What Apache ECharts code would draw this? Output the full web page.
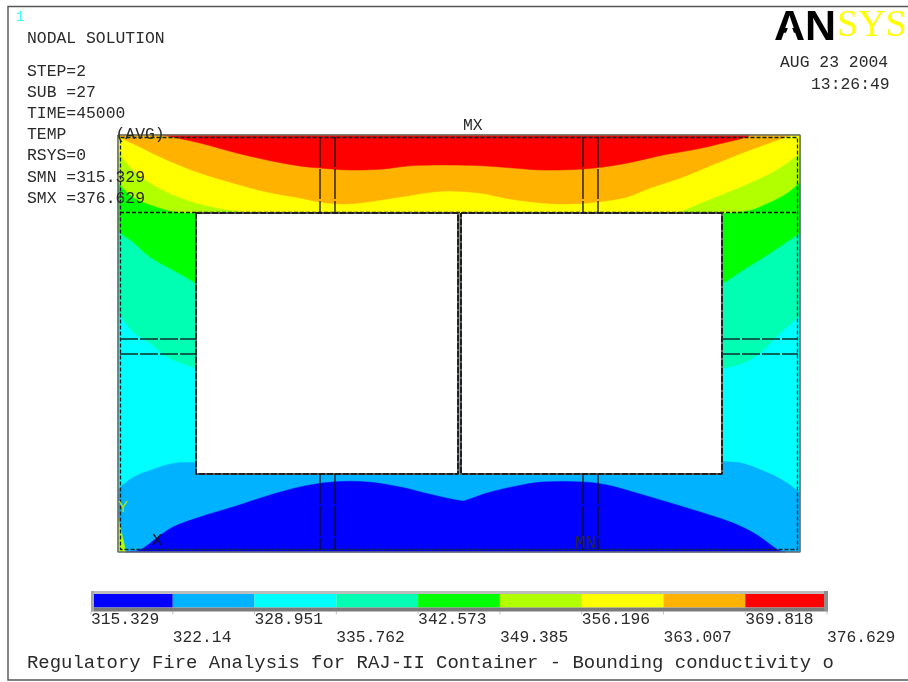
<!DOCTYPE html>
<html><head><meta charset="utf-8">
<style>html,body{margin:0;padding:0;background:#fff}#c{width:908px;height:682px;filter:blur(0.55px)}</style>
<script src="https://cdn.jsdelivr.net/npm/echarts@6/dist/echarts.min.js"></script>
</head><body><div id="c"></div>
<script>
// Contour levels and colour key
const levels=[315.329,322.14,328.951,335.762,342.573,349.385,356.196,363.007,369.818,376.629];
const levelLabels=['315.329','322.14','328.951','335.762','342.573','349.385','356.196','363.007','369.818','376.629'];
const bandColors=['#0000ff','#00b2ff','#00ffff','#00ffb2','#00ff00','#b2ff00','#ffff00','#ffb200','#ff0000'];
// Container section extents (picture units)
const plateX=[118,800], plateY=[135,552];
const windowL=[[196,213],[458,213],[458,474],[196,474]];
const windowR=[[461,213],[722,213],[722,474],[461,474]];
// Contour band outlines
const lightBlue=[[118,135],[800,135],[800,552],[118,552]];
const darkBlueDome=[[126,552],[140,550],[158,537],[173,527],[200,517],[233,507],[267,496],[300,487],[333,482],[367,482],[400,487],[433,495],[462,501],[467,500],[487,493],[517,486],[543,482],[583,482],[607,485],[633,492],[667,502],[700,512],[733,523],[757,535],[778,550],[785,552]];
const cyanBand=[[118,135],[800,135],[800,492],[783,480],[767,472],[743,463],[723,461],[195,462],[173,463],[150,470],[133,477],[120,487],[118,490]];
const springBand=[[118,135],[800,135],[800,316],[780,333],[760,353],[743,363],[725,368],[196,368],[167,357],[150,343],[133,332],[120,315],[118,312]];
const greenBand=[[118,135],[800,135],[800,233],[767,255],[743,270],[725,282],[196,283],[173,270],[150,257],[133,242],[120,233],[118,231]];
const limeBand=[[118,135],[800,135],[800,182],[787,193],[770,202],[750,210],[723,213],[197,213],[177,212],[157,207],[133,197],[118,183]];
const yellowBand=[[118,135],[800,135],[800,153],[787,163],[767,175],[733,190],[703,202],[677,213],[250,213],[213,207],[187,200],[157,187],[133,170],[118,152]];
const orangeBand=[[120,135],[790,135],[783,138],[750,150],[717,163],[683,177],[650,188],[627,197],[597,202],[567,204],[543,203],[510,199],[480,193],[450,191],[433,192],[400,197],[367,202],[343,204],[320,202],[300,198],[267,192],[233,183],[200,173],[167,160],[140,147],[120,137]];
const redBand=[[163,135],[750,135],[747,137],[723,143],[697,149],[663,155],[637,161],[610,166],[583,169],[543,170],[513,168],[487,166],[450,165],[433,165],[407,166],[383,169],[350,170],[320,168],[300,166],[267,160],[233,152],[200,143]];
const cornerLime=[[118,517],[121,530],[126,552],[118,552]];
// Mesh lines
const meshVerticals=[320,335,583,598];
const meshHorizontals=[339,354];
// Text block
const infoLines=[['NODAL SOLUTION',39],['STEP=2',71.5],['SUB =27',92.5],['TIME=45000',114],['TEMP     (AVG)',135],['RSYS=0',156],['SMN =315.329',178],['SMX =376.629',199]];
const titleText='Regulatory Fire Analysis for RAJ-II Container - Bounding conductivity o';
const dateText='AUG 23 2004', timeText='13:26:49';

const mono='"Liberation Mono","DejaVu Sans Mono",monospace';
const ink='#2a2a2a';
const dist=(a,b)=>Math.hypot(a[0]-b[0],a[1]-b[1]);
function sharpen(pts){
  // points on the section edge and ends of long straight runs stay hard corners when smoothing
  const out=[],n=pts.length;
  pts.forEach((q,i)=>{
    out.push(q);
    if(q[0]===plateX[0]||q[0]===plateX[1]||q[1]===plateY[0]||q[1]===plateY[1]||
       dist(q,pts[(i+1)%n])>100||dist(q,pts[(i+n-1)%n])>100)out.push(q);
  });
  return out;
}
function poly(name,pts,color,z,smooth){
  return {type:'custom',name,xAxisIndex:0,yAxisIndex:0,z,silent:true,clip:false,coordinateSystem:'cartesian2d',
    data:pts,renderItem(p,api){
      if(p.dataIndex!==0)return null;
      return {type:'polygon',shape:{points:sharpen(pts).map(q=>api.coord(q)),smooth:smooth||0},style:{fill:color,stroke:color,lineWidth:.5}};
    }};
}
function line(name,pts,color,width,dash,z){
  return {type:'line',name,xAxisIndex:0,yAxisIndex:0,data:pts,symbol:'none',silent:true,z,clip:false,
    lineStyle:{color,width,type:dash||'solid',opacity:1},animation:false};
}
function rect(x0,y0,x1,y1){return [[x0,y0],[x1,y0],[x1,y1],[x0,y1],[x0,y0]];}
const series=[];
[[ 'light blue',lightBlue,bandColors[1],0],['dark blue',darkBlueDome,bandColors[0],.35],['cyan',cyanBand,bandColors[2],.35],
 ['spring',springBand,bandColors[3],.35],['green',greenBand,bandColors[4],.35],['lime',limeBand,bandColors[5],.35],
 ['yellow',yellowBand,bandColors[6],.35],['orange',orangeBand,bandColors[7],.35],['red',redBand,bandColors[8],.35],
 ['corner',cornerLime,bandColors[5],0]
].forEach((b,i)=>series.push(poly(b[0],b[1],b[2],2+i*0.01,b[3])));
series.push(poly('window left',windowL,'#ffffff',3));
series.push(poly('window right',windowR,'#ffffff',3));
// outlines
series.push(line('plate frame',rect(plateX[0],plateY[0],plateX[1],plateY[1]),'#6e6e6e',1.6,'solid',4));
series.push(line('plate mesh',rect(120.5,137.5,797.5,549.5),'#0c2a2a',1.3,[4,2],5));
series.push(line('beam',[[120,212.5],[797,212.5]],'#1c1c00',1.7,[4,2],5));
series.push(line('window left base',rect(196,213,458,474),'#555555',1.8,'solid',5));
series.push(line('window right base',rect(461,213,722,474),'#555555',1.8,'solid',5));
series.push(line('window left edge',rect(196,213,458,474),'#111111',1.6,[6,2],5));
series.push(line('window right edge',rect(461,213,722,474),'#111111',1.6,[6,2],5));
meshVerticals.forEach(x=>{
  series.push(line('v top '+x,[[x,137],[x,213]],'#111111',1.3,[30,2],5));
  series.push(line('v bot '+x,[[x,474],[x,550]],'#111111',1.3,[30,2],5));
});
meshHorizontals.forEach(y=>{
  series.push(line('h left '+y,[[120,y],[196,y]],'#10302a',1.4,[18,2],5));
  series.push(line('h right '+y,[[722,y],[798,y]],'#10302a',1.4,[18,2],5));
});
// colour key, in temperature units
series.push({type:'custom',name:'key',xAxisIndex:1,yAxisIndex:1,z:3,silent:true,
  data:bandColors.map((c,i)=>[levels[i],levels[i+1],i]),
  renderItem(p,api){
    const a=api.coord([api.value(0),0]),b=api.coord([api.value(1),1]);
    return {type:'rect',shape:{x:a[0],y:b[1],width:b[0]-a[0],height:a[1]-b[1]},style:{fill:bandColors[api.value(2)]}};
  }});
series.push({type:'custom',name:'key ticks',xAxisIndex:1,yAxisIndex:1,z:3,silent:true,clip:false,
  data:levels.map((v,i)=>[v,i]),
  renderItem(p,api){
    const a=api.coord([api.value(0),0]);const r=api.value(1)%2;
    return {type:'group',children:[
      {type:'line',shape:{x1:a[0],y1:a[1]+4,x2:a[0],y2:a[1]+7},style:{stroke:'#c4c4c4',lineWidth:1}},
      {type:'text',x:a[0],y:a[1]+(r?30:12.5),style:{text:levelLabels[api.value(1)],font:'16.3px '+mono,fill:ink,textAlign:'left',textVerticalAlign:'middle'}}
    ]};
  }});
const txt=(text,x,y,size,fill)=>({type:'text',x,y,silent:true,z:20,style:{text,font:size+'px '+mono,fill:fill||ink,textVerticalAlign:'middle'}});
const graphic=[
  {type:'rect',z:0,silent:true,shape:{x:8,y:6.5,width:920,height:673.5},style:{fill:'none',stroke:'#555',lineWidth:1.4}},
  {type:'rect',z:30,silent:true,shape:{x:91,y:591,width:737,height:3},style:{fill:'#bdbdbd'}},
  {type:'rect',z:30,silent:true,shape:{x:91,y:607.5,width:737,height:4},style:{fill:'#7a7a7a'}},
  {type:'rect',z:30,silent:true,shape:{x:91,y:591,width:3,height:20},style:{fill:'#a8a8a8'}},
  {type:'rect',z:30,silent:true,shape:{x:824,y:591,width:4,height:20},style:{fill:'#8e8e8e'}},
  txt('1',16,17,14,'#33ffff'),
  txt(dateText,780,63,16.4),txt(timeText,811,84.5,16.4),
  txt('MX',463,125.5,16.4),txt('MN',575,543,17.5),txt('X',152,540,17,'#111'),txt('Y',118,507,17,'#a8e020'),
  txt(titleText,27,662.5,18.95),
  {type:'text',x:774,y:28.5,silent:true,z:20,style:{text:'AN',font:'900 43px "Liberation Sans"',fill:'#000',textVerticalAlign:'middle'}},
  {type:'polygon',z:21,silent:true,shape:{points:[[790,22],[783,41],[797,41]]},style:{fill:'#fff'}},
  {type:'text',x:837,y:26.5,silent:true,z:20,style:{text:'SYS',font:'38px "Liberation Serif"',fill:'#ffff00',textVerticalAlign:'middle'}}
].concat(infoLines.map(l=>txt(l[0],27,l[1],16.4)));
const chart=echarts.init(document.getElementById('c'),null,{renderer:'canvas'});
chart.setOption({
  animation:false,backgroundColor:'#fff',
  grid:[{left:0,top:0,width:908,height:682},{left:91,top:594,width:736,height:13.5}],
  xAxis:[{type:'value',min:0,max:908,show:false},{type:'value',gridIndex:1,min:levels[0],max:levels[9],show:false}],
  yAxis:[{type:'value',min:0,max:682,inverse:true,show:false},{type:'value',gridIndex:1,min:0,max:1,show:false}],
  graphic,series
});
</script></body></html>
